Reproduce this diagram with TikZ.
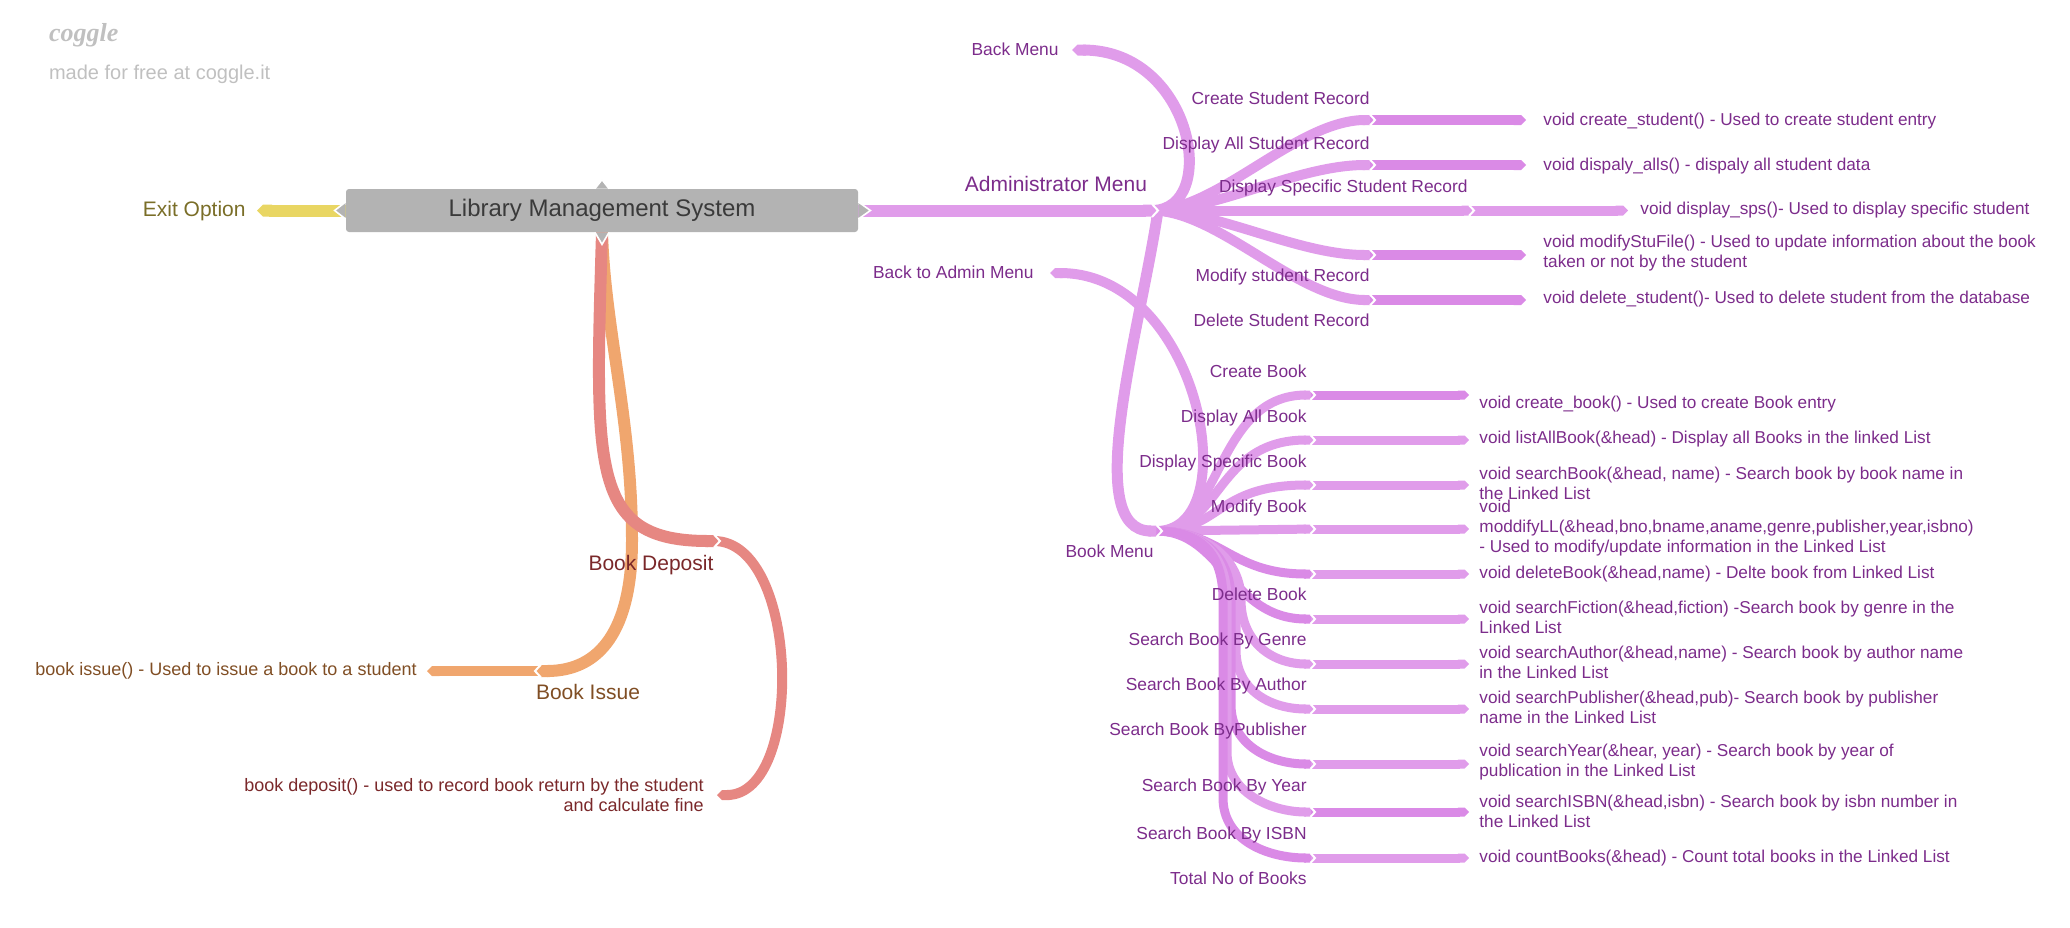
\documentclass[tikz,border=0pt]{standalone}
\usepackage{fontspec}
\setmainfont{Liberation Sans}
\newfontfamily\logofont{Liberation Serif}
\usetikzlibrary{arrows.meta}
\definecolor{rootgray}{RGB}{179,179,179}
\definecolor{roottext}{RGB}{58,58,58}
\definecolor{markgray}{RGB}{192,192,192}
\definecolor{exitbar}{RGB}{233,214,99}
\definecolor{exittext}{RGB}{122,110,40}
\definecolor{adminbar}{RGB}{224,156,234}
\definecolor{adminleaf}{RGB}{218,138,230}
\definecolor{admintext}{RGB}{124,44,139}
\definecolor{depositbar}{RGB}{230,135,130}
\definecolor{deposittext}{RGB}{122,40,42}
\definecolor{issuebar}{RGB}{240,166,110}
\definecolor{issuetext}{RGB}{128,78,36}

\begin{document}
\begin{tikzpicture}[x=.5pt,y=-.5pt,
  branch/.style={line width=#1,-{Triangle Cap}},
  notched/.style={shorten <=-#1},
  topic/.style={inner sep=0pt,font=\fontsize{10.5}{12.6}\selectfont},
  lbl/.style={inner sep=0pt,text=admintext,font=\fontsize{8.7}{10.4}\selectfont},
  leaf/.style={inner sep=0pt,text=admintext,align=left,font=\fontsize{8.6}{10}\selectfont},
  notch/.pic={\draw[white,line width=1pt,line join=miter] (-6,-6.5)--(0,0)--(-6,6.5);}]
\path[use as bounding box] (0,0) rectangle (2070,927);
\node[anchor=mid west,text=markgray,font=\logofont\fontsize{13}{15}\selectfont\bfseries\itshape] (logo) at (42,36) {coggle};
\node[anchor=mid west,text=markgray,font=\fontsize{10}{12}\selectfont] (made) at (42,74) {made for free at coggle.it};
\node[fill=rootgray,rounded corners=1.5pt,minimum width=256pt,minimum height=21.5pt,inner sep=0pt,text=roottext,font=\fontsize{12}{14}\selectfont] (root) at (602,210.5) {Library Management System};
\coordinate (exitend) at (257,210.5);
\coordinate (adminhub) at (1158,210.5);
\coordinate (bookhub) at (1162,531);
\coordinate (backend) at (1072,50);
\coordinate (bamend) at (1050,273);
\coordinate (depj) at (720,541);
\coordinate (depend) at (717,795);
\coordinate (issj) at (535,671);
\coordinate (issend) at (427,671);
\coordinate (jcs) at (1375,120);
\coordinate (jda) at (1375,165);
\coordinate (jds) at (1474,210.5);
\coordinate (jms) at (1375,255);
\coordinate (jdl) at (1375,300);
\coordinate (ecs) at (1526,120);
\coordinate (eda) at (1526,165);
\coordinate (eds) at (1628,210.5);
\coordinate (ems) at (1526,255);
\coordinate (edl) at (1526,300);
\coordinate (jcb) at (1315,395);
\coordinate (jdb) at (1315,440);
\coordinate (jsb) at (1315,485);
\coordinate (jmb) at (1315,529);
\coordinate (jxb) at (1315,574);
\coordinate (jgb) at (1315,619);
\coordinate (jab) at (1315,664);
\coordinate (jpb) at (1315,709);
\coordinate (jyb) at (1315,764);
\coordinate (jib) at (1315,812);
\coordinate (jtb) at (1315,858);
\coordinate (ecb) at (1469,395);
\coordinate (edb) at (1469,440);
\coordinate (esb) at (1469,485);
\coordinate (emb) at (1469,529);
\coordinate (exb) at (1469,574);
\coordinate (egb) at (1469,619);
\coordinate (eab) at (1469,664);
\coordinate (epb) at (1469,709);
\coordinate (eyb) at (1469,764);
\coordinate (eib) at (1469,812);
\coordinate (etb) at (1469,858);
\draw[exitbar,branch=6pt] (root.west) -- (exitend);
\draw[adminbar,branch=6pt] (root.east) -- (adminhub);
\draw[issuebar,branch=6pt] (root.south) .. controls (605,330) and (632,420) .. (632,540) .. controls (632,630) and (600,671) .. (issj);
\draw[depositbar,branch=6pt] (root.south) .. controls (595,470) and (590,541) .. (depj);
\draw[depositbar,branch=5pt,notched=3pt] (depj) .. controls +(80,0) and +(88,0) .. (depend);
\draw[issuebar,branch=5pt,notched=3pt] (issj) -- (issend);
\draw[adminbar,branch=5.5pt,notched=3pt] (adminhub) .. controls +(62,0) and +(122,0) .. (backend);
\draw[adminbar,branch=5.5pt] (adminhub) .. controls +(-18,120) and +(-82,0) .. (bookhub);
\draw[adminbar,branch=5pt,notched=2.75pt] (bookhub) .. controls +(85,0) and +(151,0) .. (bamend);
\draw[adminbar,branch=5pt,notched=3pt] (adminhub) .. controls +(60,0) and +(-78,0) .. (jcs);
\draw[adminbar,branch=5pt,notched=3pt] (adminhub) .. controls +(60,0) and +(-78,0) .. (jda);
\draw[adminbar,branch=5pt,notched=3pt] (adminhub) -- (jds);
\draw[adminbar,branch=5pt,notched=3pt] (adminhub) .. controls +(60,0) and +(-78,0) .. (jms);
\draw[adminbar,branch=5pt,notched=3pt] (adminhub) .. controls +(60,0) and +(-78,0) .. (jdl);
\draw[adminleaf,branch=5pt,notched=2.5pt] (jcs) -- (ecs);
\draw[adminleaf,branch=5pt,notched=2.5pt] (jda) -- (eda);
\draw[adminbar,branch=5pt,notched=2.5pt] (jds) -- (eds);
\draw[adminleaf,branch=5pt,notched=2.5pt] (jms) -- (ems);
\draw[adminleaf,branch=5pt,notched=2.5pt] (jdl) -- (edl);
\draw[adminbar,branch=4.5pt,notched=2.75pt] (bookhub) .. controls +(60,0) and +(-100,0) .. (jcb);
\draw[adminbar,branch=4.5pt,notched=2.75pt] (bookhub) .. controls +(60,0) and +(-100,0) .. (jdb);
\draw[adminbar,branch=4.5pt,notched=2.75pt] (bookhub) .. controls +(60,0) and +(-100,0) .. (jsb);
\draw[adminbar,branch=4.5pt,notched=2.75pt] (bookhub) -- (jmb);
\draw[adminleaf,branch=4.5pt,notched=2.75pt] (bookhub) .. controls +(60,0) and +(-85,0) .. (jxb);
\draw[adminleaf,branch=4.5pt,notched=2.75pt] (bookhub) .. controls +(60,0) and +(-85,0) .. (jgb);
\draw[adminbar,branch=4.5pt,notched=2.75pt] (bookhub) .. controls +(45,0) and +(0,-40) .. (1241,600) .. controls +(0,40) and +(-45,0) .. (jab);
\draw[adminbar,branch=4.5pt,notched=2.75pt] (bookhub) .. controls +(45,0) and +(0,-40) .. (1236,600) -- (1236,650) .. controls +(0,40) and +(-45,0) .. (jpb);
\draw[adminleaf,branch=4.5pt,notched=2.75pt] (bookhub) .. controls +(45,0) and +(0,-40) .. (1231,600) -- (1231,705) .. controls +(0,40) and +(-45,0) .. (jyb);
\draw[adminbar,branch=4.5pt,notched=2.75pt] (bookhub) .. controls +(45,0) and +(0,-40) .. (1227,600) -- (1227,752) .. controls +(0,40) and +(-45,0) .. (jib);
\draw[adminleaf,branch=4.5pt,notched=2.75pt] (bookhub) .. controls +(45,0) and +(0,-40) .. (1223,600) -- (1223,798) .. controls +(0,42) and +(-48,0) .. (jtb);
\draw[adminleaf,branch=4.5pt,notched=2.25pt] (jcb) -- (ecb);
\draw[adminbar,branch=4.5pt,notched=2.25pt] (jdb) -- (edb);
\draw[adminbar,branch=4.5pt,notched=2.25pt] (jsb) -- (esb);
\draw[adminbar,branch=4.5pt,notched=2.25pt] (jmb) -- (emb);
\draw[adminbar,branch=4.5pt,notched=2.25pt] (jxb) -- (exb);
\draw[adminbar,branch=4.5pt,notched=2.25pt] (jgb) -- (egb);
\draw[adminbar,branch=4.5pt,notched=2.25pt] (jab) -- (eab);
\draw[adminbar,branch=4.5pt,notched=2.25pt] (jpb) -- (epb);
\draw[adminbar,branch=4.5pt,notched=2.25pt] (jyb) -- (eyb);
\draw[adminleaf,branch=4.5pt,notched=2.25pt] (jib) -- (eib);
\draw[adminbar,branch=4.5pt,notched=2.25pt] (jtb) -- (etb);
\pic at (adminhub) {notch};
\pic[scale=.92] at (bookhub) {notch};
\pic at (depj) {notch};
\pic[rotate=180] at (issj) {notch};
\pic[scale=.83] at (jcs) {notch};
\pic[scale=.83] at (jda) {notch};
\pic[scale=.83] at (jds) {notch};
\pic[scale=.83] at (jms) {notch};
\pic[scale=.83] at (jdl) {notch};
\pic[scale=.75] at (jcb) {notch};
\pic[scale=.75] at (jdb) {notch};
\pic[scale=.75] at (jsb) {notch};
\pic[scale=.75] at (jmb) {notch};
\pic[scale=.75] at (jxb) {notch};
\pic[scale=.75] at (jgb) {notch};
\pic[scale=.75] at (jab) {notch};
\pic[scale=.75] at (jpb) {notch};
\pic[scale=.75] at (jyb) {notch};
\pic[scale=.75] at (jib) {notch};
\pic[scale=.75] at (jtb) {notch};
\filldraw[fill=rootgray,draw=white,line width=.8pt] (root.east) +(0,-8.5) -- +(12,0) -- +(0,8.5);
\filldraw[fill=rootgray,draw=white,line width=.8pt] (root.west) +(0,-8.5) -- +(-11,0) -- +(0,8.5);
\filldraw[fill=rootgray,draw=white,line width=.8pt] (root.north) +(-7,0) -- +(0,-9) -- +(7,0);
\filldraw[fill=rootgray,draw=white,line width=.8pt] (root.south) +(-7,0) -- +(0,12) -- +(7,0);
\node[topic,text=exittext,anchor=mid east] (exit) at (246,211) {Exit Option};
\node[topic,text=admintext,anchor=mid] (admin) at (1056,186) {Administrator Menu};
\node[topic,text=deposittext,anchor=mid] (deposit) at (651,565) {Book Deposit};
\node[topic,text=issuetext,anchor=mid] (issue) at (588,694) {Book Issue};
\node[lbl,text=issuetext,anchor=mid east,font=\fontsize{9}{10.8}\selectfont] (lissue) at (417,670) {book issue() - Used to issue a book to a student};
\node[leaf,text=deposittext,align=right,anchor=east,font=\fontsize{9}{10.4}\selectfont] (ldeposit) at (704,795) {book deposit() - used to record book return by the student\\and calculate fine};
\node[lbl,anchor=mid east] (back) at (1059,50) {Back Menu};
\node[lbl,anchor=mid east] (bam) at (1034,273) {Back to Admin Menu};
\node[lbl,anchor=mid east] (bookmenu) at (1154,552) {Book Menu};
\node[lbl,anchor=mid east] (cs) at (1370,99) {Create Student Record};
\node[lbl,anchor=mid east] (da) at (1370,144) {Display All Student Record};
\node[lbl,anchor=mid east] (dsp) at (1468,187) {Display Specific Student Record};
\node[lbl,anchor=mid east] (ms) at (1370,276) {Modify student Record};
\node[lbl,anchor=mid east] (dl) at (1370,321) {Delete Student Record};
\node[leaf,anchor=mid west] (lcs) at (1543,120) {void create\_student() - Used to create student entry};
\node[leaf,anchor=mid west] (lda) at (1543,165) {void dispaly\_alls() - dispaly all student data};
\node[leaf,anchor=mid west] (lds) at (1640,209) {void display\_sps()- Used to display specific student};
\node[leaf,anchor=west] (lms) at (1543,253) {void modifyStuFile() - Used to update information about the book\\taken or not by the student};
\node[leaf,anchor=mid west] (ldl) at (1543,298) {void delete\_student()- Used to delete student from the database};
\node[lbl,anchor=mid east] (cb) at (1307,372) {Create Book};
\node[lbl,anchor=mid east] (db) at (1307,417) {Display All Book};
\node[lbl,anchor=mid east] (sb) at (1307,462) {Display Specific Book};
\node[lbl,anchor=mid east] (mb) at (1307,507) {Modify Book};
\node[lbl,anchor=mid east] (xb) at (1307,595) {Delete Book};
\node[lbl,anchor=mid east] (gb) at (1307,640) {Search Book By Genre};
\node[lbl,anchor=mid east] (ab) at (1307,685) {Search Book By Author};
\node[lbl,anchor=mid east] (pb) at (1307,730) {Search Book ByPublisher};
\node[lbl,anchor=mid east] (yb) at (1307,786) {Search Book By Year};
\node[lbl,anchor=mid east] (ib) at (1307,834) {Search Book By ISBN};
\node[lbl,anchor=mid east] (tb) at (1307,879) {Total No of Books};
\node[leaf,anchor=mid west] (lcb) at (1479,403) {void create\_book() - Used to create Book entry};
\node[leaf,anchor=mid west] (ldb) at (1479,438) {void listAllBook(\&head) - Display all Books in the linked List};
\node[leaf,anchor=west] (lsb) at (1479,483) {void searchBook(\&head, name) - Search book by book name in\\the Linked List};
\node[leaf,anchor=west] (lmb) at (1479,528) {void\\moddifyLL(\&head,bno,bname,aname,genre,publisher,year,isbno)\\- Used to modify/update information in the Linked List};
\node[leaf,anchor=mid west] (lxb) at (1479,573) {void deleteBook(\&head,name) - Delte book from Linked List};
\node[leaf,anchor=west] (lgb) at (1479,617) {void searchFiction(\&head,fiction) -Search book by genre in the\\Linked List};
\node[leaf,anchor=west] (lab) at (1479,662) {void searchAuthor(\&head,name) - Search book by author name\\in the Linked List};
\node[leaf,anchor=west] (lpb) at (1479,707) {void searchPublisher(\&head,pub)- Search book by publisher\\name in the Linked List};
\node[leaf,anchor=west] (lyb) at (1479,762) {void searchYear(\&hear, year) - Search book by year of\\publication in the Linked List};
\node[leaf,anchor=west] (lib) at (1479,811) {void searchISBN(\&head,isbn) - Search book by isbn number in\\the Linked List};
\node[leaf,anchor=mid west] (ltb) at (1479,857) {void countBooks(\&head) - Count total books in the Linked List};
\end{tikzpicture}
\end{document}
